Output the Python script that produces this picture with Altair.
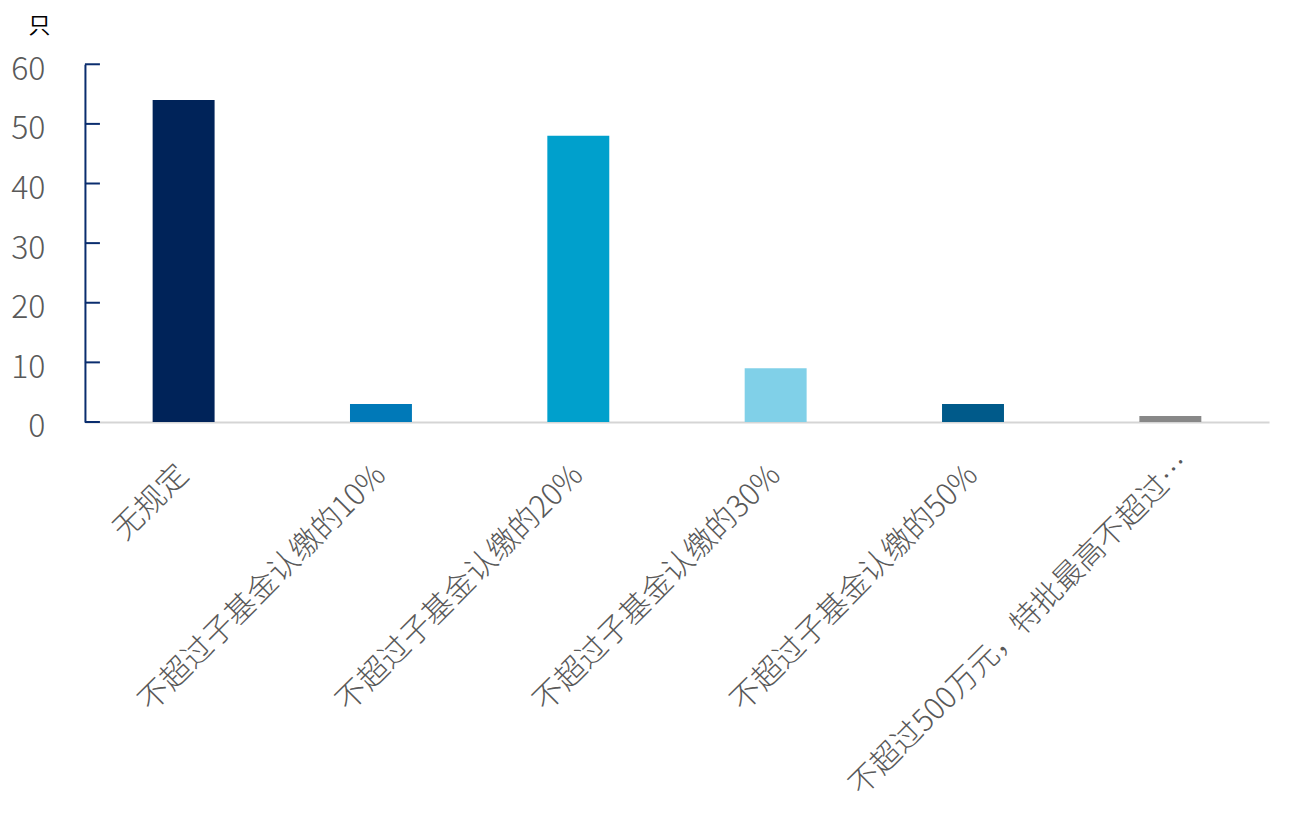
import altair as alt
import pandas as pd

categories = ["无规定", "不超过子基金认缴的10%", "不超过子基金认缴的20%", "不超过子基金认缴的30%", "不超过子基金认缴的50%", "不超过500万元，特批最高不超过…"]
values = [54, 3, 48, 9, 3, 1]
colors = ["#002359", "#0079b8", "#00a0cc", "#80d0e8", "#005a8a", "#888888"]
ticks = [0, 10, 20, 30, 40, 50, 60]

df = pd.DataFrame({"cat": categories, "val": values, "color": colors})
tdf = pd.DataFrame({"t": ticks})

FONT = "Noto Sans CJK SC"
LONG = "indexof(datum.value, '特批') >= 0"

bars = alt.Chart(df).mark_bar(size=62).encode(
    x=alt.X("cat:N", sort=categories,
            scale=alt.Scale(paddingInner=0, paddingOuter=0),
            axis=alt.Axis(title=None, labelAngle=-45,
                          labelFontSize={"condition": {"test": LONG, "value": 30}, "value": 30.5},
                          labelOffset={"condition": {"test": LONG, "value": 26}, "value": 0},
                          labelBaseline={"condition": {"test": LONG, "value": "bottom"}, "value": "middle"},
                          labelFontWeight=300,
                          labelColor="#595959",
                          labelFont=FONT, labelPadding=48, ticks=False, domainColor="#d5d5d5",
                          domainWidth=2, labelLimit=700)),
    y=alt.Y("val:Q", scale=alt.Scale(domain=[0, 60]),
            axis=alt.Axis(title="只", titleAngle=0, titleFontSize=22, titleFont=FONT,
                          titleFontWeight="normal", titleColor="#000000", titleX=-46, titleY=-39,
                          titleAlign="center", titleBaseline="middle",
                          values=ticks, labelFontSize=32, labelFontWeight=300,
                          labelColor="#595959", labelFont=FONT, labelOffset=5,
                          labelPadding=40, ticks=False, grid=False, domainColor="#0a2d6e",
                          domainWidth=2)),
    color=alt.Color("color:N", scale=None),
)

tick_marks = alt.Chart(tdf).mark_rule(color="#0a2d6e", strokeWidth=2).encode(
    y=alt.Y("t:Q"),
    x=alt.value(0),
    x2=alt.value(15),
)

chart = alt.layer(bars, tick_marks).properties(
    width=1185, height=358,
    autosize=alt.AutoSizeParams(type="none"),
    padding={"left": 77, "top": 56, "right": 30, "bottom": 380},
).configure_view(stroke=None)

chart.save("out.html", embed_options={"renderer": "svg", "actions": False})
